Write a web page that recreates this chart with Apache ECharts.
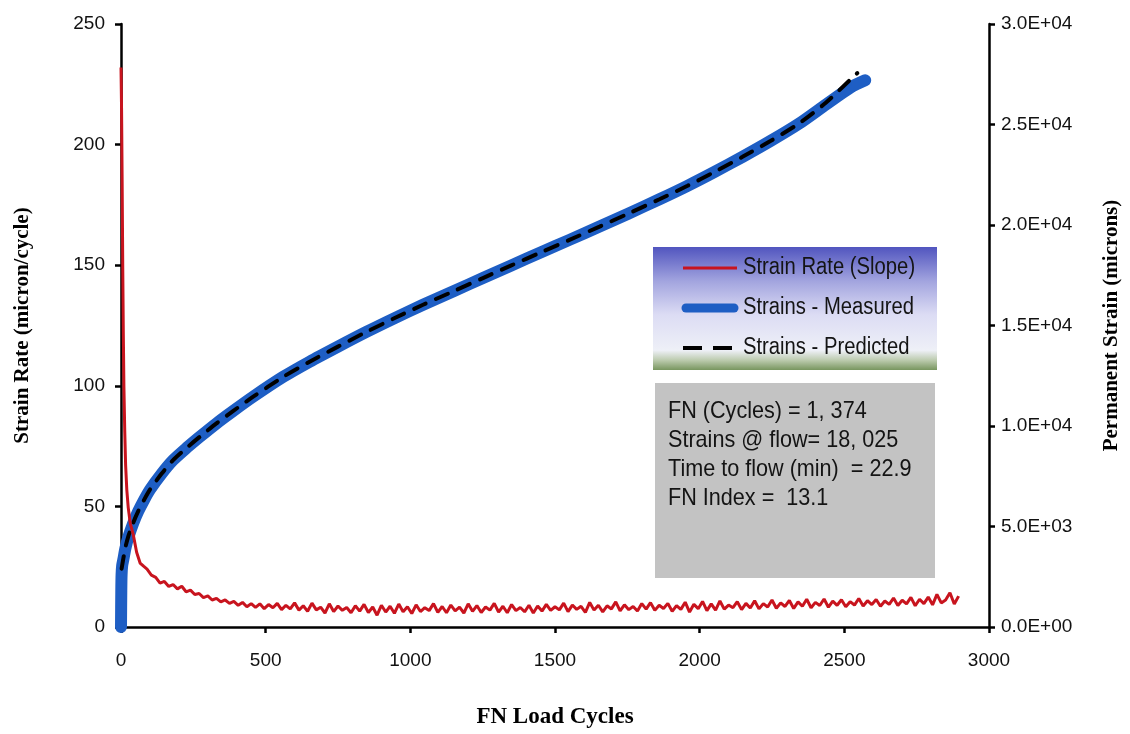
<!DOCTYPE html>
<html>
<head>
<meta charset="utf-8">
<script src="https://cdn.jsdelivr.net/npm/echarts@6.0.0/dist/echarts.min.js"></script>
<style>
  html, body { margin: 0; padding: 0; background: #ffffff; }
  #chart { width: 1130px; height: 734px; }
</style>
</head>
<body>
<div id="chart"></div>
<script>
// Strain rate (micron/cycle): steep initial decay, then a noisy plateau sampled every 15 cycles
const rateHead = [
  [0, 232], [2, 214], [4, 184], [6, 150], [8, 122], [10, 100], [13, 81], [16, 67],
  [20, 57], [25, 49.5], [32, 43], [42, 38.5], [54, 31], [66, 26.5], [78, 25.2]
];
const rateTailStart = 90;
const rateTailStep = 15;
const rateTail = [
  24.0, 21.5, 20.6, 18.2, 18.9, 16.8, 17.6, 15.8, 16.9, 14.6,
  15.3, 13.5, 13.9, 12.2, 12.9, 11.2, 11.9, 10.4, 11.2, 9.8,
  10.6, 9.0, 10.2, 8.4, 9.7, 8.1, 9.6, 7.6, 9.3, 8.0,
  9.8, 7.2, 9.0, 7.5, 10.0, 7.0, 8.8, 6.5, 9.9, 7.1,
  8.2, 5.8, 9.6, 6.4, 8.7, 6.9, 8.1, 5.9, 8.8, 6.6,
  9.4, 6.0, 8.3, 4.9, 9.0, 6.2, 8.6, 5.7, 9.5, 6.3,
  8.4, 5.6, 9.2, 6.4, 8.0, 6.8, 9.7, 6.1, 8.5, 5.9,
  9.1, 6.7, 8.2, 5.8, 9.6, 6.5, 8.9, 6.0, 8.3, 7.0,
  9.8, 6.2, 8.6, 5.9, 9.3, 6.8, 8.1, 6.3, 9.0, 5.8,
  8.7, 6.6, 9.4, 6.9, 8.4, 7.1, 9.9, 6.4, 9.1, 7.3,
  8.6, 6.1, 10.2, 7.0, 9.0, 6.3, 8.8, 7.5, 10.4, 6.7,
  9.2, 7.2, 8.5, 6.6, 9.7, 7.4, 10.1, 6.9, 9.0, 7.7,
  9.8, 6.5, 8.9, 7.3, 10.3, 6.2, 9.4, 7.6, 10.6, 6.8,
  9.6, 7.0, 10.8, 7.4, 9.1, 8.0, 10.5, 7.2, 9.8, 7.9,
  10.9, 7.5, 9.7, 8.3, 11.2, 7.8, 10.0, 8.5, 11.0, 7.7,
  10.4, 8.6, 11.5, 8.0, 10.2, 8.9, 11.6, 8.2, 10.7, 9.0,
  11.3, 8.4, 10.5, 9.1, 11.8, 8.7, 10.9, 9.3, 11.4, 8.6,
  10.8, 9.4, 12.0, 8.9, 11.1, 9.6, 12.3, 8.8, 11.5, 9.7,
  12.4, 9.2, 13.5, 10.0, 11.2, 14.2, 9.5, 12.8
];

// Permanent strain (microns) vs. load cycles
const measuredCycles = [0, 1, 2, 4, 8, 15, 25, 42, 60, 80, 100, 140, 180, 230, 273, 330, 387, 457, 560,
  652, 750, 848, 946, 1044, 1153, 1251, 1349, 1452, 1550, 1654, 1751, 1861, 1958, 2050, 2148, 2246, 2344,
  2436, 2522, 2572];
const measuredStrain = [0, 1800, 2600, 3050, 3350, 3900, 4450, 5160, 5770, 6330, 6830, 7620, 8300, 8950,
  9470, 10130, 10740, 11460, 12440, 13200, 13950, 14680, 15370, 16030, 16730, 17360, 17990, 18640, 19260,
  19920, 20550, 21280, 21950, 22630, 23390, 24190, 25050, 25990, 26850, 27200];

const predictedCycles = [2, 5, 8, 15, 25, 42, 60, 80, 100, 140, 180, 230, 273, 330, 387, 457, 560, 652, 750,
  848, 946, 1044, 1153, 1251, 1349, 1452, 1550, 1654, 1751, 1861, 1958, 2050, 2148, 2246, 2344, 2436, 2522, 2545];
const predictedStrain = [2900, 3150, 3400, 3950, 4500, 5180, 5780, 6330, 6830, 7620, 8300, 8950, 9470, 10130,
  10740, 11460, 12440, 13200, 13950, 14680, 15370, 16030, 16730, 17360, 17990, 18640, 19260, 19920, 20550,
  21280, 21950, 22630, 23390, 24190, 25060, 26080, 27250, 27560];

const seriesNames = ['Strain Rate (Slope)', 'Strains - Measured', 'Strains - Predicted'];
const summaryLines = [
  'FN (Cycles) = 1, 374',
  'Strains @ flow= 18, 025',
  'Time to flow (min)  = 22.9',
  'FN Index =  13.1'
];

const rateData = rateHead.concat(rateTail.map((v, i) => [rateTailStart + i * rateTailStep, v]));
const measuredData = measuredCycles.map((c, i) => [c, measuredStrain[i]]);
const predictedData = predictedCycles.map((c, i) => [c, predictedStrain[i]]);

const RED = '#c8141e';
const BLUE = '#1e5ec4';

function sci(v) {
  if (v === 0) return '0.0E+00';
  const e = Math.floor(Math.log10(v) + 1e-9);
  const m = v / Math.pow(10, e);
  return m.toFixed(1) + 'E+' + String(e).padStart(2, '0');
}

const sans = 'Liberation Sans, Arial, sans-serif';
const serif = 'Liberation Serif, Times New Roman, serif';
const axisLine = { show: true, lineStyle: { color: '#000', width: 2.5 } };
const axisTick = { show: true, inside: false, length: 6, lineStyle: { color: '#000', width: 2.5 } };

// Key box: line samples drawn beside their series names
const keyText = (y, text) => ({
  type: 'text', x: 743, y: y, scaleX: 0.88,
  style: { text: text, fontFamily: sans, fontSize: 23, fill: '#141414', verticalAlign: 'middle' }
});
const keyGroup = {
  type: 'group', z: 5,
  children: [
    {
      type: 'rect',
      shape: { x: 653, y: 247, width: 284, height: 123 },
      style: {
        fill: new echarts.graphic.LinearGradient(0, 0, 0, 1, [
          { offset: 0, color: '#5155bf' },
          { offset: 0.28, color: '#a3a5df' },
          { offset: 0.55, color: '#dcdcf4' },
          { offset: 0.84, color: '#eef0f7' },
          { offset: 0.92, color: '#bccbae' },
          { offset: 1, color: '#78965f' }
        ])
      }
    },
    { type: 'line', shape: { x1: 683, y1: 268, x2: 737, y2: 268 }, style: { stroke: RED, lineWidth: 3 } },
    { type: 'line', shape: { x1: 686, y1: 308, x2: 734, y2: 308 }, style: { stroke: BLUE, lineWidth: 9, lineCap: 'round' } },
    { type: 'line', shape: { x1: 683, y1: 348, x2: 732, y2: 348 }, style: { stroke: '#000', lineWidth: 4, lineDash: [19, 11] } },
    keyText(268, seriesNames[0]),
    keyText(308, seriesNames[1]),
    keyText(348, seriesNames[2])
  ]
};

const chart = echarts.init(document.getElementById('chart'));
chart.setOption({
  backgroundColor: '#ffffff',
  animation: false,
  grid: { left: 121, right: 140, top: 24, bottom: 107 },
  xAxis: {
    type: 'value', min: 0, max: 3000, interval: 500,
    name: 'FN Load Cycles', nameLocation: 'middle', nameGap: 79,
    nameTextStyle: { fontFamily: serif, fontWeight: 'bold', fontSize: 23, color: '#000' },
    axisLine: axisLine, axisTick: axisTick, splitLine: { show: false },
    axisLabel: { fontFamily: sans, fontSize: 19, color: '#111', margin: 24, formatter: (v) => String(v) }
  },
  yAxis: [
    {
      type: 'value', min: 0, max: 250, interval: 50, position: 'left',
      name: 'Strain Rate (micron/cycle)', nameLocation: 'middle', nameRotate: 90, nameGap: 88,
      nameTextStyle: { fontFamily: serif, fontWeight: 'bold', fontSize: 21, color: '#000' },
      axisLine: axisLine, axisTick: axisTick, splitLine: { show: false },
      axisLabel: { fontFamily: sans, fontSize: 19, color: '#111', margin: 16 }
    },
    {
      type: 'value', min: 0, max: 30000, interval: 5000, position: 'right',
      name: 'Permanent Strain (microns)', nameLocation: 'middle', nameRotate: 90, nameGap: 112,
      nameTextStyle: { fontFamily: serif, fontWeight: 'bold', fontSize: 21, color: '#000' },
      axisLine: axisLine, axisTick: axisTick, splitLine: { show: false },
      axisLabel: { fontFamily: sans, fontSize: 19, color: '#111', margin: 12, formatter: sci }
    }
  ],
  graphic: [
    keyGroup,
    {
      type: 'group', left: 655, top: 383, z: 5,
      children: [
        { type: 'rect', shape: { x: 0, y: 0, width: 280, height: 195 }, style: { fill: '#c3c3c3' } },
        {
          type: 'text', x: 13, y: 14, scaleX: 0.9,
          style: {
            text: summaryLines.join('\n'),
            fontFamily: sans, fontSize: 24, lineHeight: 29, fill: '#141414'
          }
        }
      ]
    }
  ],
  series: [
    {
      name: seriesNames[1], type: 'line', yAxisIndex: 1, data: measuredData, z: 2,
      showSymbol: false, symbol: 'none', smooth: 0.25,
      lineStyle: { color: BLUE, width: 12, cap: 'round', join: 'round' }
    },
    {
      name: seriesNames[2], type: 'line', yAxisIndex: 1, data: predictedData, z: 3,
      showSymbol: false, symbol: 'none', smooth: 0.25,
      lineStyle: { color: '#000', width: 4, type: [13, 11], cap: 'round' }
    },
    {
      name: seriesNames[0], type: 'line', yAxisIndex: 0, data: rateData, z: 4,
      showSymbol: false, symbol: 'none',
      lineStyle: { color: RED, width: 3 }
    }
  ]
});
</script>
</body>
</html>
